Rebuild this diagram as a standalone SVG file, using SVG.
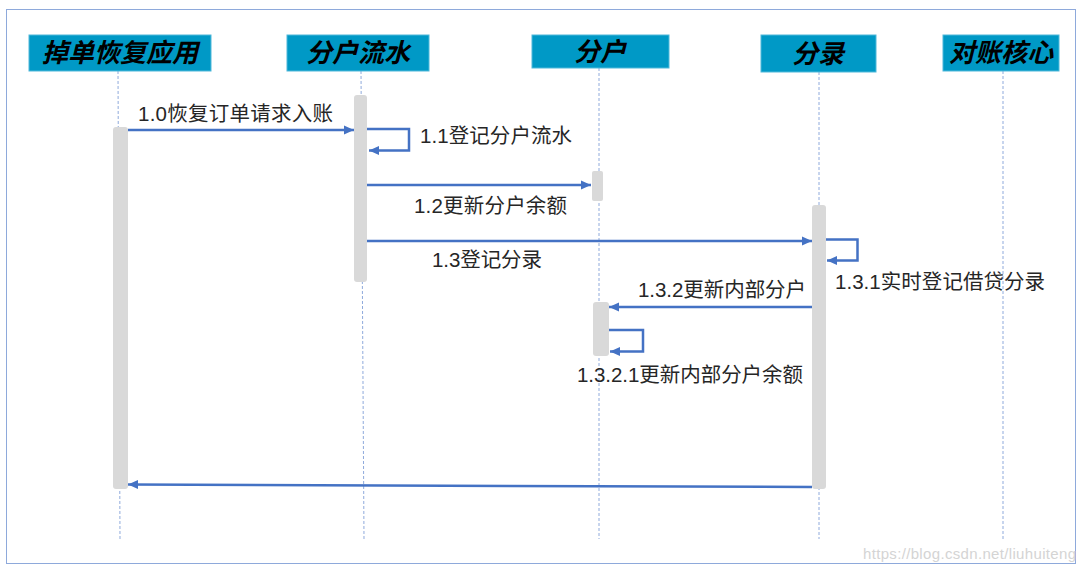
<svg xmlns="http://www.w3.org/2000/svg" width="1086" height="571" viewBox="0 0 1086 571">
<style>
.hdr{fill:#0099C6;stroke:#4FB8DA;stroke-width:1}
.hdrt{font-family:"Noto Sans CJK SC","Liberation Sans",sans-serif;font-size:26px;font-weight:bold;font-style:italic;fill:#000;text-anchor:middle}
.life{stroke:#8FAADC;stroke-width:1;stroke-dasharray:3,2;fill:none}
.bar{fill:#D9D9D9}
.msg{stroke:#4472C4;stroke-width:2.5;fill:none}
.lbl{font-family:"Liberation Sans","Noto Sans CJK SC",sans-serif;font-size:20.5px;fill:#262626}
</style>
<defs>
<marker id="ah" markerUnits="userSpaceOnUse" markerWidth="11" markerHeight="10" refX="10" refY="5" orient="auto">
<path d="M0,0.5 L10,5 L0,9.5 z" fill="#4472C4"/>
</marker>
</defs>
<rect x="6.5" y="9.5" width="1069" height="554" fill="#fff" stroke="#8EA9DB" stroke-width="1"/>
<g id="lifelines">
<line class="life" x1="118" y1="71" x2="120" y2="539"/>
<line class="life" x1="361" y1="71" x2="364" y2="539"/>
<line class="life" x1="599" y1="68" x2="599" y2="539"/>
<line class="life" x1="819" y1="72" x2="819" y2="539"/>
<line class="life" x1="1003" y1="71" x2="1003" y2="539"/>
</g>
<g id="node-app">
<rect class="hdr" x="29" y="35" width="182" height="36"/>
<text class="hdrt" x="120" y="62">掉单恢复应用</text>
<rect class="bar" x="113" y="127" width="15" height="362" rx="3"/>
</g>
<g id="node-flow">
<rect class="hdr" x="287" y="35" width="142" height="36"/>
<text class="hdrt" x="358" y="62">分户流水</text>
<rect class="bar" x="354" y="95" width="13" height="187" rx="3"/>
</g>
<g id="node-account">
<rect class="hdr" x="532" y="35" width="137" height="33"/>
<text class="hdrt" x="600" y="61">分户</text>
<rect class="bar" x="592" y="171" width="11" height="30" rx="2"/>
<rect class="bar" x="593" y="302" width="16" height="54" rx="3"/>
</g>
<g id="node-entry">
<rect class="hdr" x="761" y="35" width="115" height="37"/>
<text class="hdrt" x="818" y="63">分录</text>
<rect class="bar" x="812" y="205" width="14" height="284" rx="3"/>
</g>
<g id="node-recon">
<rect class="hdr" x="943" y="35" width="116" height="36"/>
<text class="hdrt" x="1001" y="62">对账核心</text>
</g>
<g id="connectors">
<line class="msg" x1="128" y1="130" x2="354" y2="130" marker-end="url(#ah)"/>
<polyline class="msg" points="367,129 409,129 409,150.5 369,150.5" marker-end="url(#ah)"/>
<line class="msg" x1="367" y1="185" x2="591" y2="185" marker-end="url(#ah)"/>
<line class="msg" x1="367" y1="241" x2="812" y2="241" marker-end="url(#ah)"/>
<polyline class="msg" points="826,239.5 857.5,239.5 857.5,260.5 827,260.5" marker-end="url(#ah)"/>
<line class="msg" x1="812" y1="307" x2="609" y2="307" marker-end="url(#ah)"/>
<polyline class="msg" points="609,330 643,330 643,351.5 610,351.5" marker-end="url(#ah)"/>
<line class="msg" x1="812" y1="487" x2="128" y2="484.5" marker-end="url(#ah)"/>
</g>
<g id="labels">
<text class="lbl" x="138" y="121" textLength="195" lengthAdjust="spacing">1.0恢复订单请求入账</text>
<text class="lbl" x="420" y="143" textLength="152" lengthAdjust="spacing">1.1登记分户流水</text>
<text class="lbl" x="414" y="213" textLength="153" lengthAdjust="spacing">1.2更新分户余额</text>
<text class="lbl" x="432" y="267" textLength="110" lengthAdjust="spacing">1.3登记分录</text>
<text class="lbl" x="835" y="289" textLength="210" lengthAdjust="spacing">1.3.1实时登记借贷分录</text>
<text class="lbl" x="638" y="297" textLength="168" lengthAdjust="spacing">1.3.2更新内部分户</text>
<text class="lbl" x="577" y="382" textLength="226" lengthAdjust="spacing">1.3.2.1更新内部分户余额</text>
</g>
<text x="863" y="559" font-family="Liberation Sans,sans-serif" font-size="15" fill="#D4D4D4" textLength="213">https://blog.csdn.net/liuhuiteng</text>
</svg>
